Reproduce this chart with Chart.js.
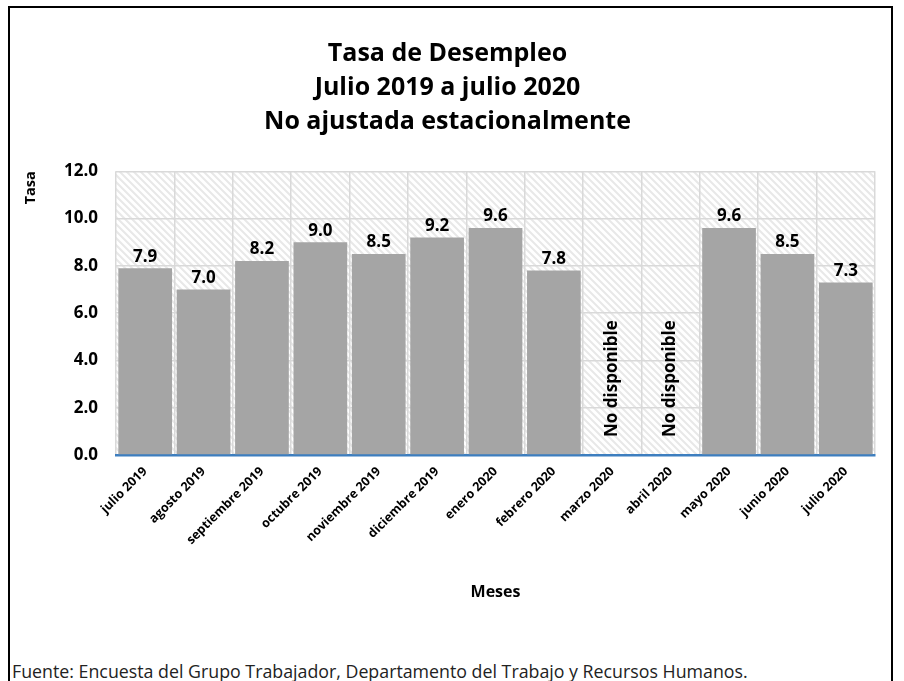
<!DOCTYPE html>
<html lang="es">
<head>
<meta charset="utf-8">
<script src="https://cdn.jsdelivr.net/npm/chart.js@4.4.1/dist/chart.umd.min.js"></script>
<style>
  body { margin: 0; background: #fff; }
  #wrap { position: relative; width: 904px; height: 681px; overflow: hidden; }
  #marco { position: absolute; left: 8px; top: 6px; width: 885px; height: 700px; border: 2px solid #000; box-sizing: border-box; }
  #grafica { position: absolute; left: 0; top: 0; }
  #fuente { position: absolute; left: 12px; top: 659px; font-family: "Open Sans", "Liberation Sans", sans-serif; font-size: 17.8px; color: #222; white-space: nowrap; }
</style>
</head>
<body>
<div id="wrap">
  <div id="marco"></div>
  <canvas id="grafica" width="904" height="640"></canvas>
  <div id="fuente">Fuente: Encuesta del Grupo Trabajador, Departamento del Trabajo y Recursos Humanos.</div>
</div>
<script>
// Datos
const meses = ['julio 2019', 'agosto 2019', 'septiembre 2019', 'octubre 2019', 'noviembre 2019',
  'diciembre 2019', 'enero 2020', 'febrero 2020', 'marzo 2020', 'abril 2020',
  'mayo 2020', 'junio 2020', 'julio 2020'];
const tasas = [7.9, 7.0, 8.2, 9.0, 8.5, 9.2, 9.6, 7.8, null, null, 9.6, 8.5, 7.3];
const titulo = ['Tasa de Desempleo', 'Julio 2019 a julio 2020', 'No ajustada estacionalmente'];
const textoNoDisp = 'No disponible';

const fuente = '"Open Sans", "Liberation Sans", sans-serif';

// Fondo rayado del área de la gráfica
const fondoRayado = {
  id: 'fondoRayado',
  beforeDraw(chart) {
    const { ctx, chartArea: a } = chart;
    ctx.save();
    ctx.fillStyle = '#fff';
    ctx.fillRect(a.left, a.top, a.right - a.left, a.bottom - a.top);
    ctx.beginPath();
    ctx.rect(a.left, a.top, a.right - a.left, a.bottom - a.top);
    ctx.clip();
    ctx.strokeStyle = '#e8e8e8';
    ctx.lineWidth = 2;
    const h = a.bottom - a.top;
    for (let x = a.left - h; x < a.right + h; x += 7) {
      ctx.beginPath();
      ctx.moveTo(x, a.top);
      ctx.lineTo(x + h, a.bottom);
      ctx.stroke();
    }
    ctx.restore();
  }
};

// Etiquetas de valores y "No disponible"
const etiquetas = {
  id: 'etiquetas',
  afterDatasetsDraw(chart) {
    const { ctx } = chart;
    const meta = chart.getDatasetMeta(0);
    const xs = chart.scales.x;
    const ys = chart.scales.y;
    ctx.save();
    ctx.fillStyle = '#000';
    ctx.font = 'bold 17px ' + fuente;
    tasas.forEach((v, i) => {
      if (v === null) {
        const x = xs.getPixelForValue(i);
        ctx.save();
        ctx.translate(x, ys.getPixelForValue(0) - 18);
        ctx.rotate(-Math.PI / 2);
        ctx.textAlign = 'left';
        ctx.textBaseline = 'middle';
        ctx.fillText(textoNoDisp, 0, 0);
        ctx.restore();
      } else {
        const bar = meta.data[i];
        ctx.textAlign = 'center';
        ctx.textBaseline = 'bottom';
        ctx.fillText(v.toFixed(1), bar.x, bar.y - 3);
      }
    });
    ctx.restore();
  }
};

new Chart(document.getElementById('grafica'), {
  type: 'bar',
  data: {
    labels: meses,
    datasets: [{
      label: 'Tasa',
      data: tasas,
      backgroundColor: '#a5a5a5',
      barPercentage: 0.92,
      categoryPercentage: 1.0
    }]
  },
  options: {
    responsive: false,
    animation: false,
    layout: { padding: { top: 37, left: 20, right: 29, bottom: 35 } },
    plugins: {
      legend: { display: false },
      tooltip: { enabled: false },
      title: {
        display: true,
        text: titulo,
        color: '#000',
        font: { family: fuente, size: 25, weight: 'bold', lineHeight: 1.35 },
        padding: { top: 0, bottom: 33 }
      }
    },
    scales: {
      x: {
        grid: { color: '#d9d9d9', lineWidth: 1.5, drawTicks: false, offset: true },
        border: { display: true, color: '#3d7ebf', width: 2.5 },
        ticks: {
          color: '#000',
          font: { family: fuente, size: 12.5, weight: 'bold' },
          minRotation: 45, maxRotation: 45,
          autoSkip: false,
          padding: 9
        },
        title: {
          display: true,
          text: 'Meses',
          color: '#000',
          font: { family: fuente, size: 16, weight: 'bold' },
          padding: { top: 0, bottom: 3 }
        },
        afterFit(scale) { scale.height = 150; }
      },
      y: {
        min: 0, max: 12,
        grid: { color: '#d9d9d9', lineWidth: 1.5, drawTicks: false },
        border: { display: false },
        ticks: {
          stepSize: 2,
          color: '#000',
          font: { family: fuente, size: 17, weight: 'bold' },
          padding: 18,
          callback: v => v.toFixed(1)
        },
        title: {
          display: true,
          text: 'Tasa',
          align: 'end',
          color: '#000',
          font: { family: fuente, size: 14.5, weight: 'bold' },
          padding: { top: 2, bottom: 0 }
        },
        afterFit(scale) { scale.width = 96; }
      }
    }
  },
  plugins: [fondoRayado, etiquetas]
});
</script>
</body>
</html>
